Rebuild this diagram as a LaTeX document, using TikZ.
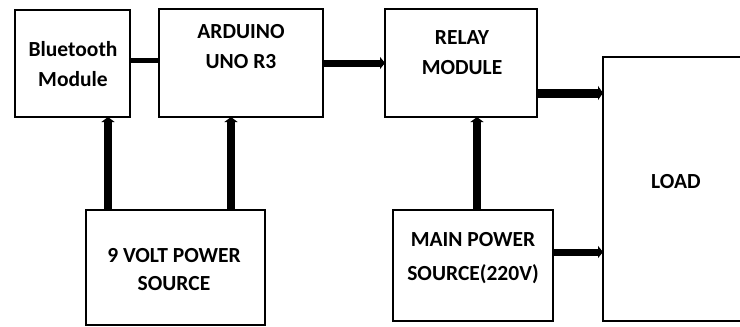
\documentclass[tikz,border=0pt]{standalone}
\usepackage{fontspec}
\setmainfont{Carlito}
\usetikzlibrary{arrows.meta}
\tikzset{
  blk/.style={draw=black, line width=2.6pt, rectangle, inner sep=0pt, outer sep=0pt},
  lbl/.style={align=center, inner sep=0pt, font=\fontsize{21.5}{30}\selectfont\bfseries},
  conn/.style={draw=black, line width=#1},
  arr/.style={draw=black, line width=#1, -{Triangle[length=5pt, width=#1+5pt]}},
}
\begin{document}
\begin{tikzpicture}[x=1pt, y=-1pt]
\useasboundingbox (0,0) rectangle (740,327);
% boxes
\node[blk, minimum width=115pt, minimum height=107pt] (bt) at (72.5,63.5) {};
\node[blk, minimum width=164pt, minimum height=108pt] (ard) at (241,63) {};
\node[blk, minimum width=152pt, minimum height=108pt] (relay) at (461,63) {};
\node[blk, minimum width=142pt, minimum height=264pt] (load) at (674,189) {};
\node[blk, minimum width=179pt, minimum height=115pt] (nine) at (175.5,267.5) {};
\node[blk, minimum width=160pt, minimum height=111pt] (main) at (473,265.5) {};
% labels
\node[lbl] (btt) at (73,64) {Bluetooth\\Module};
\node[lbl] (ardt) at (241,47) {ARDUINO\\UNO R3};
\node[lbl] (relayt) at (462,53) {RELAY\\MODULE};
\node[lbl] (loadt) at (676,182) {LOAD};
\node[lbl, font=\fontsize{21.5}{28}\selectfont\bfseries] (ninet) at (174,270) {9 VOLT POWER\\SOURCE};
\node[lbl, font=\fontsize{21.5}{34}\selectfont\bfseries] (maint) at (473,258) {MAIN POWER\\SOURCE(220V)};
% helper coordinates
\coordinate (ylink) at (0,60);
\coordinate (yrl) at (0,93);
\coordinate (yml) at (0,252);
\coordinate (xbt) at (108,0);
\coordinate (xard) at (231,0);
\coordinate (xrel) at (477,0);
% connectors
\draw[conn=5pt] (bt.east |- ylink) -- (ard.west |- ylink);
\draw[arr=7pt] (ard.east) -- (relay.west);
\draw[arr=9pt] (relay.east |- yrl) -- (load.west |- yrl);
\draw[arr=7pt] (main.east |- yml) -- (load.west |- yml);
\draw[arr=8pt] (nine.north -| xbt) -- (bt.south -| xbt);
\draw[arr=8pt] (nine.north -| xard) -- (ard.south -| xard);
\draw[arr=8pt] (main.north -| xrel) -- (relay.south -| xrel);
\end{tikzpicture}
\end{document}
